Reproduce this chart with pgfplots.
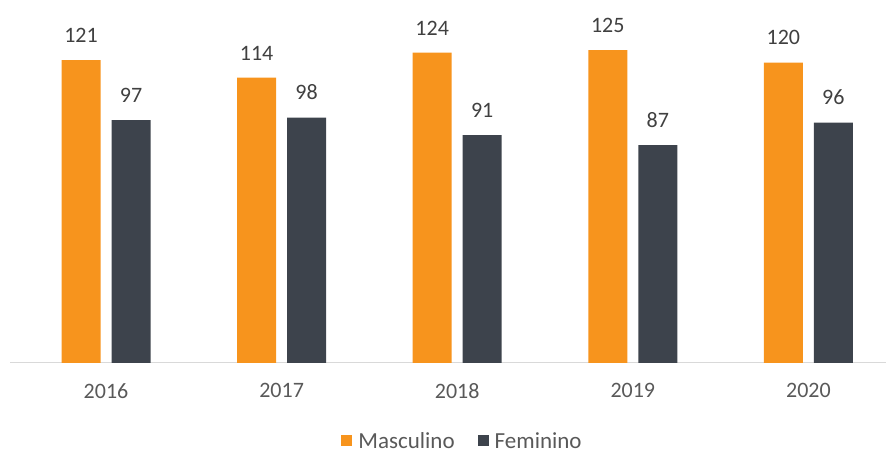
\documentclass[border=0pt]{standalone}
\usepackage{pgfplots}
\pgfplotsset{compat=1.18}
\usepackage{fontspec}
\setmainfont{Carlito}
\definecolor{masc}{HTML}{F7941D}
\definecolor{fem}{HTML}{3D434C}
\definecolor{axisgray}{HTML}{D9D9D9}
\definecolor{txtgray}{HTML}{595959}
\definecolor{valgray}{HTML}{404040}
\begin{document}
\begin{tikzpicture}
\begin{axis}[
  scale only axis, width=876pt, height=353pt,
  xmin=-0.547, xmax=4.442, ymin=0, ymax=141,
  ybar=11pt, bar width=39pt,
  axis x line*=bottom, axis y line=none,
  x axis line style={axisgray, line width=1pt, -},
  xtick={0,1,2,3,4},
  xticklabels={2016,2017,2018,2019,2020},
  major tick length=0pt,
  /pgf/number format/assume math mode=true,
  xticklabel style={font=\fontsize{22}{26}\selectfont, text=txtgray, yshift=-17pt},
  nodes near coords,
  nodes near coords style={font=\fontsize{22}{26}\selectfont, text=valgray, yshift=14pt},
  legend style={at={(0.516,-0.222)}, anchor=center, draw=none, fill=none,
    legend columns=-1, font=\fontsize{23}{27}\selectfont, text=txtgray,
    nodes={inner sep=1pt},
    /tikz/every odd column/.append style={column sep=5pt},
    /tikz/every even column/.append style={column sep=22pt}},
  legend image code/.code={\fill[#1] (0pt,-5pt) rectangle (11pt,6pt);},
]
\addplot[fill=masc, draw=none] coordinates {(0,121) (1,114) (2,124) (3,125) (4,120)};
\addplot[fill=fem, draw=none] coordinates {(0,97) (1,98) (2,91) (3,87) (4,96)};
\legend{Masculino, Feminino}
\end{axis}
\pgfresetboundingbox
\path (-10pt,-91pt) rectangle (876pt,363pt);
\end{tikzpicture}
\end{document}
